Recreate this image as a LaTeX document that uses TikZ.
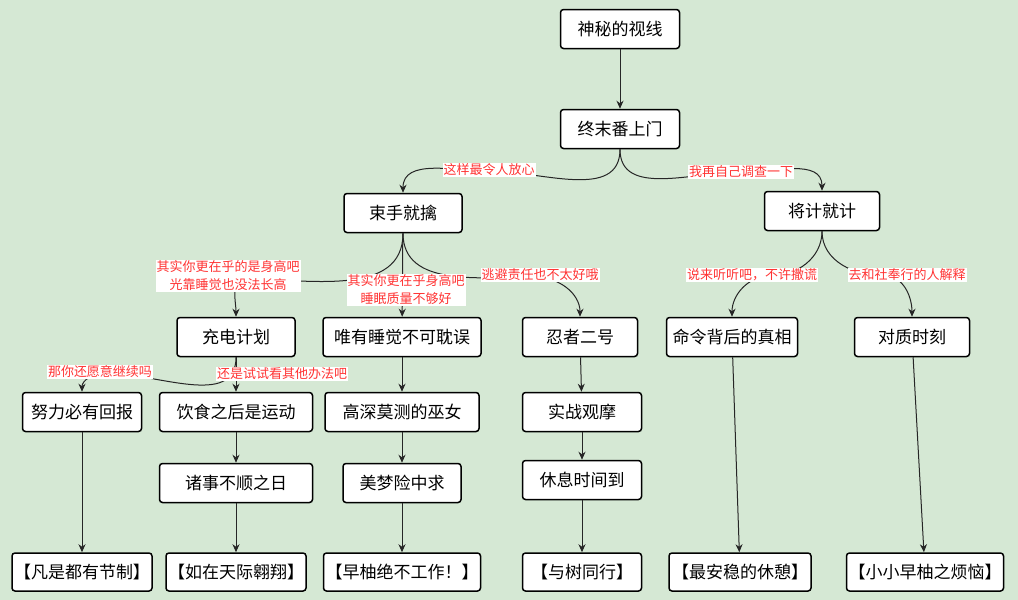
\documentclass[tikz,border=0pt]{standalone}
\usepackage{fontspec}
\setmainfont{Noto Sans CJK SC}
\usepackage{xcolor}
\usepackage{tikz}
\usetikzlibrary{arrows.meta}
\definecolor{bggreen}{HTML}{D5E8D4}
\definecolor{lblred}{HTML}{FF3333}
\tikzstyle{box}    = [rectangle, draw=black, line width=1.5pt, rounded corners=3pt, fill=white, minimum height=39pt, inner sep=2pt, font=\fontsize{17}{20}\selectfont]
\tikzstyle{ending} = [box, minimum height=38pt]
\tikzstyle{lbl}    = [fill=white, text=lblred, inner sep=1pt, align=center, font=\fontsize{13}{18}\selectfont]
\tikzstyle{link}   = [->, line width=1pt, draw=black!85]

\begin{document}
\begin{tikzpicture}[%
    >={Stealth[length=8pt,width=7pt,inset=2.5pt]},
    x=1pt, y=-1pt
  ]
      %Background
      \fill[bggreen] (0,0) rectangle (1018,600);
      \useasboundingbox (0,0) rectangle (1018,600);

      %Top
      \node[box, minimum width=119pt] (S)  at (620,29)  {神秘的视线};
      \node[box, minimum width=119pt] (Z)  at (620,129) {终末番上门};
      \node[box, minimum width=118pt] (SS) at (403,213) {束手就擒};
      \node[box, minimum width=115pt] (JJ) at (822,211) {将计就计};

      %Second row
      \node[box, minimum width=118pt] (CD) at (236,337) {充电计划};
      \node[box, minimum width=158pt] (WY) at (402,337) {唯有睡觉不可耽误};
      \node[box, minimum width=115pt] (RZ) at (580,337) {忍者二号};
      \node[box, minimum width=131pt] (ML) at (732,337) {命令背后的真相};
      \node[box, minimum width=115pt] (DZ) at (912,337) {对质时刻};

      %Third and fourth rows
      \node[box, minimum width=119pt] (NL) at (82,412)  {努力必有回报};
      \node[box, minimum width=153pt] (YS) at (236,412) {饮食之后是运动};
      \node[box, minimum width=154pt] (GS) at (402,412) {高深莫测的巫女};
      \node[box, minimum width=119pt] (SZ) at (582,412) {实战观摩};
      \node[box, minimum width=153pt] (ZS) at (236,483) {诸事不顺之日};
      \node[box, minimum width=118pt] (MM) at (402,483) {美梦险中求};
      \node[box, minimum width=119pt] (XX) at (582,480) {休息时间到};

      %Endings
      \node[ending, minimum width=140pt] (E1) at (82,572)  {【凡是都有节制】};
      \node[ending, minimum width=140pt] (E2) at (236,572) {【如在天际翱翔】};
      \node[ending, minimum width=155pt] (E3) at (402,572) {【早柚绝不工作！】};
      \node[ending, minimum width=119pt] (E4) at (582,572) {【与树同行】};
      \node[ending, minimum width=142pt] (E5) at (740,572) {【最安稳的休憩】};
      \node[ending, minimum width=154pt] (E6) at (925,572) {【小小早柚之烦恼】};

      %Bends of the curved links
      \coordinate (b1) at (489,171);
      \coordinate (b2) at (741,172);
      \coordinate (b3) at (245,279);
      \coordinate (b4) at (535,277);
      \coordinate (b5) at (770,276);
      \coordinate (b6) at (885,276);
      \coordinate (b7) at (105,373);

      %Links
      \draw [link] (S) -- (Z);
      \draw [link] (Z.south) to[out=-90,in=0] (b1) to[out=180,in=90] (SS.north);
      \draw [link] (Z.south) to[out=-90,in=180] (b2) to[out=0,in=90] (JJ.north);
      \draw [link] (SS.south) to[out=-90,in=0] (b3) to[out=180,in=90] (CD.north);
      \draw [link] (SS) -- (WY);
      \draw [link] (SS.south) to[out=-90,in=180] (b4) to[out=0,in=90] (RZ.north);
      \draw [link] (JJ.south) to[out=-90,in=0] (b5) to[out=180,in=90] (ML.north);
      \draw [link] (JJ.south) to[out=-90,in=180] (b6) to[out=0,in=90] (DZ.north);
      \draw [link] (CD.south) to[out=-90,in=0] (b7) to[out=180,in=90] (NL.north);
      \draw [link] (CD) -- (YS);
      \draw [link] (YS) -- (ZS);
      \draw [link] (ZS) -- (E2);
      \draw [link] (NL) -- (E1);
      \draw [link] (WY) -- (GS);
      \draw [link] (GS) -- (MM);
      \draw [link] (MM) -- (E3);
      \draw [link] (RZ) -- (SZ);
      \draw [link] (SZ) -- (XX);
      \draw [link] (XX) -- (E4);
      \draw [link] (ML) -- (E5);
      \draw [link] (DZ) -- (E6);

      %Labels
      \node[lbl] (L1) at (489,170) {这样最令人放心};
      \node[lbl] (L2) at (741,172) {我再自己调查一下};
      \node[lbl] (L3) at (228,276) {其实你更在乎的是身高吧\\光靠睡觉也没法长高};
      \node[lbl] (L4) at (406,290) {其实你更在乎身高吧\\睡眠质量不够好};
      \node[lbl] (L5) at (540,275) {逃避责任也不太好哦};
      \node[lbl] (L6) at (752,275) {说来听听吧，不许撒谎};
      \node[lbl] (L7) at (907,275) {去和社奉行的人解释};
      \node[lbl] (L8) at (100,372) {那你还愿意继续吗};
      \node[lbl] (L9) at (282,374) {还是试试看其他办法吧};
    \end{tikzpicture}
\end{document}
